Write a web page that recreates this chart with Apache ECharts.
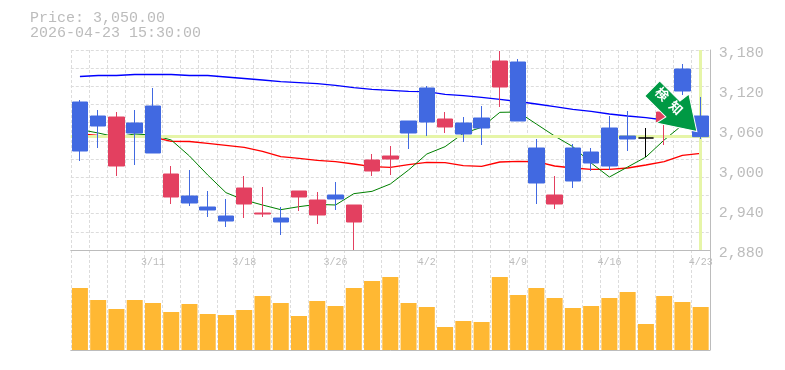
<!DOCTYPE html>
<html>
<head>
<meta charset="utf-8">
<style>html,body{margin:0;padding:0;background:#fff}#c{width:785px;height:370px}</style>
<script src="https://cdn.jsdelivr.net/npm/echarts@6/dist/echarts.min.js"></script>
</head>
<body>
<div id="c"></div>
<script>
const categories = ['3/5','3/6','3/9','3/10','3/11','3/12','3/13','3/16','3/17','3/18','3/19','3/23','3/24','3/25','3/26','3/27','3/30','3/31','4/1','4/2','4/3','4/6','4/7','4/8','4/9','4/10','4/13','4/14','4/15','4/16','4/17','4/20','4/21','4/22','4/23'];
const opens = [3102,3081,3006,3070.5,3096,2959.5,2961,2944.5,2931,2949,2934,2928,2959.5,2932.5,2962.5,2922,2998.5,3016.5,3073.5,3123,3064.5,3070.5,3078,3124.5,3162,3033,2949,3033,3027,3063,3051,3048,3072,3151.5,3081];
const closes = [3028.5,3066,3079.5,3055.5,3025.5,2994,2950.5,2940,2923.5,2973,2935.5,2922,2968.5,2955,2956.5,2947.5,3015,3021,3055.5,3072,3076.5,3054,3063,3163.5,3073.5,2980.5,2962.5,2983.5,3010.5,3006,3046.5,3048,3087,3118.5,3050];
const lows = [3013.5,3033,2991,3007.5,3025.5,2949,2946,2929.5,2914.5,2928,2929.5,2902.5,2938.5,2919,2940,2880,2991,2992.5,3031.5,3051,3055.5,3042,3037.5,3094.5,3073.5,2949,2941.5,2973,2998.5,3000,3028.5,3019.5,3037.5,3112.5,3046.5];
const highs = [3105,3090,3087,3090,3123,3006,3000,2968.5,2956.5,2991,2974.5,2944.5,2968.5,2967,2982,2947.5,3024,3036,3073.5,3126,3087,3079.5,3096,3178.5,3166.5,3046.5,2991,3039,3033,3081,3088.5,3063,3111,3159,3109.5];
const maShort = [3060.75,3055.5,3049.5,3054,3052.5,3045,3021,2992.5,2966,2955,2947.5,2940.5,2945,2948.5,2947.5,2964.5,2968,2979,3000,3024,3035,3055,3064,3086.5,3087,3069,3051,3035,3010.5,2989.5,3004.5,3019.5,3045,3067.5,3069];
const maMid = [3054,3051.75,3051,3050,3049.5,3043,3042.75,3040,3037,3034,3028,3020,3017.5,3014.5,3012.5,3009,3005,3004,3008,3011.5,3011,3006.5,3005.5,3012,3013,3012.5,3006,3003,3001,3001,3003,3007.5,3012.5,3022,3025];
const maLong = [3140.25,3141.75,3141.75,3143.25,3143.25,3143.25,3141.75,3141.75,3139.5,3137.25,3135,3132.5,3131,3129.5,3127,3123.5,3121,3119.5,3118,3117.5,3113.5,3111.5,3109,3106,3102.75,3099,3095,3091,3088,3084,3081,3078.5,3075,3072,3069];
const volumes = [62,50,41,50,47,38,46,36,35,40,54,47,34,49,44,62,69,73,47,43,23,29,28,73,55,62,52,42,44,52,58,26,54,48,43];
const lastPrice = 3050;
const priceText = 'Price: 3,050.00';
const timeText = '2026-04-23 15:30:00';
const priceMin = 2880, priceMax = 3180, priceStep = 60;
const arrowTipPrice = 3060;

const MONO = '"Liberation Mono", monospace';
const GREY = '#bcbcbc';
const GRID = '#dcdcdc';
const UP = '#E34060', DOWN = '#4169E1';
const GUIDE = '#E6F5A8';

const candles = categories.map((c, i) => {
  const v = [opens[i], closes[i], lows[i], highs[i]];
  if (opens[i] === closes[i]) {
    return { value: v, itemStyle: { color: '#000', color0: '#000', borderColor: '#000', borderColor0: '#000', borderColorDoji: '#000' } };
  }
  return v;
});

const vSplit = { show: true, interval: 0, lineStyle: { color: GRID, type: [3, 2], width: 1 } };
const chart = echarts.init(document.getElementById('c'));
chart.setOption({
  animation: false,
  backgroundColor: '#fff',
  title: {
    text: priceText + '\n' + timeText, left: 30, top: 11, padding: 0,
    textStyle: { fontFamily: MONO, fontSize: 15, fontWeight: 'normal', color: GREY, lineHeight: 15 }
  },
  grid: [
    { left: 70.8, top: 50, width: 639, height: 200 },
    { left: 70.8, top: 250, width: 639, height: 100 }
  ],
  xAxis: [
    { type: 'category', gridIndex: 0, data: categories, boundaryGap: true,
      axisTick: { show: false },
      axisLine: { show: true, lineStyle: { color: GREY, width: 1 } },
      splitLine: vSplit,
      axisLabel: { interval: (i) => i % 5 === 4, margin: 7, hideOverlap: false, fontFamily: MONO, fontSize: 10, color: GREY } },
    { type: 'category', gridIndex: 1, data: categories, boundaryGap: true,
      axisTick: { show: false },
      axisLine: { show: true, lineStyle: { color: GREY, width: 1 } },
      splitLine: vSplit,
      axisLabel: { show: false } }
  ],
  yAxis: [
    { type: 'value', gridIndex: 0, position: 'right', min: priceMin, max: priceMax, interval: priceStep, scale: true,
      axisLine: { show: true, onZero: false, lineStyle: { color: GREY, width: 1 } },
      axisTick: { show: false }, splitLine: { show: false },
      axisLabel: { margin: 9, fontFamily: MONO, fontSize: 15, color: GREY, verticalAlign: 'top', lineHeight: 7,
        formatter: (v) => v.toLocaleString('en-US') } },
    { type: 'value', gridIndex: 0, position: 'left', min: 0, max: 11, interval: 1,
      axisLine: { show: false }, axisTick: { show: false }, axisLabel: { show: false },
      splitLine: { show: true, lineStyle: { color: GRID, type: [3, 2], width: 1 } } },
    { type: 'value', gridIndex: 1, position: 'right', min: 0, max: 100,
      axisLine: { show: true, onZero: false, lineStyle: { color: GREY, width: 1 } },
      axisTick: { show: false }, axisLabel: { show: false }, splitLine: { show: false } }
  ],
  series: [
    { name: 'guide', type: 'line', xAxisIndex: 0, yAxisIndex: 0, data: [], z: 2, silent: true,
      markLine: { silent: true, symbol: 'none', label: { show: false }, animation: false,
        lineStyle: { color: GUIDE, width: 3, type: 'solid' },
        data: [{ yAxis: lastPrice }, { xAxis: categories[categories.length - 1] }] } },
    { name: 'MA long', type: 'line', xAxisIndex: 0, yAxisIndex: 0, data: maLong, symbol: 'none', z: 3, lineStyle: { color: '#0000FF', width: 1.3 } },
    { name: 'MA mid', type: 'line', xAxisIndex: 0, yAxisIndex: 0, data: maMid, symbol: 'none', z: 3, lineStyle: { color: '#FF0000', width: 1.3 } },
    { name: 'MA short', type: 'line', xAxisIndex: 0, yAxisIndex: 0, data: maShort, symbol: 'none', z: 3, lineStyle: { color: '#008000', width: 1 } },
    { name: 'Price', type: 'candlestick', xAxisIndex: 0, yAxisIndex: 0, data: candles, barWidth: 16, z: 5,
      itemStyle: { color: UP, color0: DOWN, borderColor: UP, borderColor0: DOWN, borderWidth: 1 },
      markPoint: {
        silent: true, animation: false, z: 10,
        symbol: 'path://M659.3 81L679.5 101L688.5 94L696.5 131.5L656 123L665.5 117L644.5 96Z',
        symbolSize: [52, 50.5],
        symbolOffset: [-29.8, -23.75],
        itemStyle: { color: '#009944', borderColor: '#fff', borderWidth: 1 },
        label: { show: true, position: 'inside', rotate: -44, offset: [-5, -2.7], formatter: '検\u2002知', color: '#fff',
          fontFamily: '"Noto Sans CJK JP"', fontWeight: 'bold', fontSize: 13 },
        data: [{ coord: [categories[categories.length - 1], arrowTipPrice] }]
      } },
    { name: 'Volume', type: 'bar', xAxisIndex: 1, yAxisIndex: 2, data: volumes, barWidth: 16, itemStyle: { color: '#FFB833' } }
  ]
});
</script>
</body>
</html>
